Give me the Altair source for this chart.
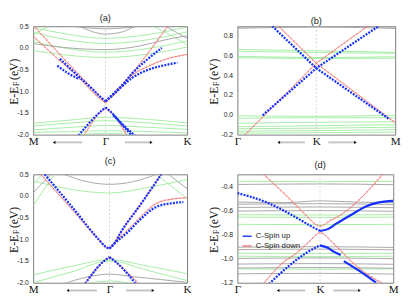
import altair as alt
import pandas as pd

SERIF = "Liberation Serif"
SANS = "Liberation Sans"
SERIES = ["C-Spin up", "C-Spin down"]
SERIES_COLORS = ["#1430ff", "#f07878"]

# ---------------- panel (a): M - Gamma - K ----------------
A_LABELS = ["M", "Γ", "K"]
A_SYM = 0.47
A_YDOM = [-2.0, 0.5]
A_YTICKS = [-2.0, -1.5, -1.0, -0.5, 0.0, 0.5]
A_GREEN = [
    [(0, 0.47), (0.2, 0.33), (0.47, 0.22), (0.75, 0.31), (1, 0.48)],
    [(0, 0.36), (0.2, 0.2), (0.47, 0.1), (0.75, 0.19), (1, 0.37)],
    [(0, 0.15), (0.2, 0.0), (0.47, -0.1), (0.75, -0.01), (1, 0.16)],
    [(0, -0.06), (0.2, -0.16), (0.47, -0.22), (0.75, -0.14), (1, 0.02)],
    [(0, 0.3), (0.05, 0.4), (0.1, 0.5)],
    [(0.78, 0.5), (0.9, 0.28), (1, 0.08)],
    [(0, -1.74), (0.25, -1.66), (0.47, -1.6), (0.75, -1.65), (1, -1.73)],
    [(0, -1.8), (0.25, -1.73), (0.47, -1.68), (0.75, -1.73), (1, -1.8)],
    [(0, -1.89), (0.25, -1.83), (0.47, -1.79), (0.75, -1.83), (1, -1.88)],
    [(0, -1.95), (0.25, -1.93), (0.47, -1.91), (0.75, -1.93), (1, -1.96)],
    [(0.3, -2.0), (0.47, -1.97), (0.65, -2.0)],
]
A_GRAY = [
    [(0.25, 0.5), (0.47, 0.44), (0.7, 0.5)],
    [(0.3, 0.5), (0.38, 0.38), (0.47, 0.32), (0.57, 0.36), (0.66, 0.5)],
    [(0, 0.1), (0.2, 0.01), (0.47, -0.04), (0.7, 0.05), (0.85, 0.18), (1, 0.28)],
    [(0.86, 0.5), (0.93, 0.36), (1, 0.22)],
]
A_RED = [
    [(0, 0.52), (0.2, -0.25), (0.4, -1.0), (0.44, -1.15), (0.47, -1.25)],
    [(0, 0.27), (0.15, -0.22), (0.29, -0.66), (0.42, -1.13), (0.47, -1.27)],
    [(0.47, -1.25), (0.52, -1.08), (0.58, -0.85), (0.874, 0.5)],
    [(0.47, -1.26), (0.52, -1.1), (0.58, -0.86), (0.64, -0.64), (0.75, -0.42), (0.853, -0.27), (1.0, -0.15)],
    [(0.33, -2.02), (0.44, -1.47), (0.47, -1.39)],
    [(0.47, -1.39), (0.5, -1.47), (0.61, -2.02)],
]
A_BLUE = [
    [(0.174, -0.25), (0.29, -0.64), (0.40, -1.0), (0.44, -1.14), (0.47, -1.23)],
    [(0.157, -0.41), (0.22, -0.57), (0.3, -0.72)],
    [(0.47, -1.23), (0.52, -1.06), (0.58, -0.85), (0.64, -0.6), (0.75, -0.24), (0.836, 0.0)],
    [(0.47, -1.23), (0.52, -1.08), (0.58, -0.88), (0.64, -0.7), (0.75, -0.5), (0.853, -0.4), (0.937, -0.34)],
    [(0.295, -2.02), (0.44, -1.46), (0.47, -1.37)],
    [(0.47, -1.37), (0.5, -1.46), (0.6, -1.86), (0.64, -2.02)],
    [(0.52, -1.55), (0.58, -1.76), (0.66, -2.02)],
]

# ---------------- panel (b): Gamma - K - M ----------------
B_LABELS = ["Γ", "K", "M"]
B_SYM = 0.5
B_YDOM = [-0.2, 0.893]
B_YTICKS = [-0.2, 0.0, 0.2, 0.4, 0.6, 0.8]
B_GREEN = [
    [(0, 0.66), (0.5, 0.645), (1, 0.63)],
    [(0, 0.64), (0.5, 0.628), (1, 0.62)],
    [(0, 0.59), (0.5, 0.578), (1, 0.585)],
    [(0, 0.575), (0.5, 0.568), (1, 0.57)],
    [(0, -0.01), (0.5, -0.015), (1, -0.005)],
    [(0, -0.035), (0.5, -0.03), (1, -0.03)],
    [(0, -0.085), (0.5, -0.075), (1, -0.07)],
    [(0, -0.12), (0.5, -0.11), (1, -0.1)],
    [(0, -0.14), (0.5, -0.135), (1, -0.125)],
    [(0, -0.165), (0.5, -0.16), (1, -0.15)],
    [(0, -0.185), (0.5, -0.18), (1, -0.175)],
]
B_GRAY = [
    [(0, 0.872), (0.3, 0.882), (0.5, 0.885), (0.7, 0.882), (1, 0.87)],
    [(0, 0.885), (0.5, 0.89), (1, 0.885)],
]
B_RED = [
    [(0.03, -0.23), (0.5, 0.52), (0.84, 0.91)],
    [(0.25, 0.91), (0.5, 0.52), (1.0, -0.08)],
]
B_BLUE = [
    [(0.16, -0.005), (0.5, 0.47), (0.894, 0.893)],
    [(0.221, 0.893), (0.5, 0.47), (0.959, -0.04)],
]

# ---------------- panel (c): M - Gamma - K ----------------
C_LABELS = ["M", "Γ", "K"]
C_SYM = 0.496
C_YDOM = [-2.0, 0.5]
C_YTICKS = [-2.0, -1.5, -1.0, -0.5, 0.0, 0.5]
C_GREEN = [
    [(0, 0.35), (0.25, 0.15), (0.496, 0.07), (0.75, 0.2), (1, 0.38)],
    [(0, -0.22), (0.137, 0.5)],
    [(0, 0.28), (0.06, 0.5)],
    [(0.8, 0.5), (0.9, 0.22), (1, -0.05)],
    [(0, -1.82), (0.25, -1.62), (0.496, -1.47), (0.75, -1.62), (1, -1.79)],
    [(0, -2.0), (0.25, -1.75), (0.496, -1.5), (0.75, -1.72), (1, -1.95)],
    [(0.35, -2.02), (0.496, -1.96), (0.65, -2.02)],
]
C_GRAY = [
    [(0.2, 0.5), (0.35, 0.33), (0.496, 0.27), (0.65, 0.33), (0.8, 0.5)],
    [(0, 0.07), (0.06, 0.3), (0.12, 0.5)],
    [(0.88, 0.5), (0.94, 0.33), (1, 0.17)],
    [(0.2, -2.02), (0.35, -1.87), (0.496, -1.8), (0.65, -1.86), (1, -1.99)],
]
C_RED = [
    [(0.05, 0.5), (0.25, -0.3), (0.44, -1.06), (0.47, -1.17), (0.496, -1.21)],
    [(0.496, -1.21), (0.53, -1.08), (0.567, -0.85), (0.693, -0.22), (0.832, 0.5)],
    [(0.496, -1.21), (0.53, -1.07), (0.61, -0.8), (0.693, -0.5), (0.8, -0.17), (0.904, -0.07), (1.0, -0.04)],
    [(0.338, -2.02), (0.46, -1.5), (0.496, -1.41)],
    [(0.496, -1.41), (0.53, -1.5), (0.685, -2.02)],
]
C_BLUE = [
    [(0.075, 0.5), (0.25, -0.24), (0.44, -1.06), (0.47, -1.17), (0.496, -1.21)],
    [(0.496, -1.21), (0.53, -1.08), (0.567, -0.85), (0.693, -0.22), (0.832, 0.5)],
    [(0.496, -1.21), (0.53, -1.09), (0.61, -0.85), (0.693, -0.55), (0.8, -0.25), (0.904, -0.165), (0.976, -0.14)],
    [(0.338, -2.02), (0.46, -1.5), (0.496, -1.41)],
    [(0.496, -1.41), (0.53, -1.5), (0.6, -1.74), (0.665, -2.02)],
]

# ---------------- panel (d): Gamma - K - M ----------------
D_LABELS = ["Γ", "K", "M"]
D_SYM = 0.53
D_YDOM = [-1.2, -0.3]
D_YTICKS = [-1.2, -1.0, -0.8, -0.6, -0.4]
D_GREEN_E = [-0.358, -0.635, -0.655, -0.715, -0.955, -0.98, -1.085]
D_GRAY_E = [-0.384, -0.548, -0.575, -0.605, -0.905, -0.925, -0.998, -1.045, -1.078, -1.126]
D_GREEN = [[(0, e), (0.53, e - 0.003), (1, e)] for e in D_GREEN_E]
D_GRAY = [[(0, e), (0.53, e + 0.004), (1, e - 0.002)] for e in D_GRAY_E] + [
    [(0, -0.53), (0.3, -0.535), (0.53, -0.52), (0.75, -0.53), (1, -0.535)],
]
D_RED = [
    [(0.168, -0.3), (0.26, -0.41), (0.348, -0.52), (0.44, -0.64), (0.53, -0.73),
     (0.6, -0.68), (0.663, -0.637), (0.766, -0.53), (0.85, -0.42), (0.932, -0.3)],
    [(0.172, -1.2), (0.286, -1.04), (0.389, -0.944), (0.46, -0.86), (0.53, -0.785),
     (0.621, -0.88), (0.745, -1.04), (0.849, -1.144), (0.94, -1.21)],
]
D_BLUE = [
    [(0, -0.456), (0.182, -0.53), (0.348, -0.637), (0.472, -0.73), (0.53, -0.77)],
    [(0.203, -1.21), (0.327, -1.064), (0.43, -0.963), (0.517, -0.898), (0.53, -0.89)],
]
D_BLUE_SOLID = [
    [(0.53, -0.77), (0.58, -0.755), (0.634, -0.71), (0.725, -0.64), (0.828, -0.565), (0.9, -0.535), (1.0, -0.52)],
    [(0.53, -0.89), (0.58, -0.91), (0.621, -0.944), (0.663, -0.97)],
    [(0.683, -1.02), (0.78, -1.1), (0.89, -1.2)],
]


def to_df(bands, kind, series=""):
    rows = []
    for i, band in enumerate(bands):
        for j, (k, e) in enumerate(band):
            rows.append({"k": k, "e": e, "band": f"{kind}{i}", "o": j, "series": series})
    return pd.DataFrame(rows, columns=["k", "e", "band", "o", "series"])


ONE = pd.DataFrame({"a": [0]})


def make_panel(title, tdx, toff, labels, sym, ydom, yticks, W, H, green, gray, red, blue,
               blue_solid, arrows, ytx, interp, legend):
    lab_expr = (f"abs(datum.value) < 0.001 ? '{labels[0]}' : "
                f"abs(datum.value - 1) < 0.001 ? '{labels[2]}' : '{labels[1]}'")
    X = alt.X("k:Q", scale=alt.Scale(domain=[0, 1], nice=False, zero=False),
              axis=alt.Axis(values=[0, sym, 1], labelExpr=lab_expr, title=None, domain=False,
                            ticks=False, tickSize=0, grid=False, labelFont=SERIF, labelFontSize=11.5,
                            labelColor="#111", labelPadding=1, labelFlush=False,
                            labelOverlap=False, labelBound=False))
    Y = alt.Y("e:Q", scale=alt.Scale(domain=ydom, nice=False, zero=False),
              axis=alt.Axis(values=yticks, labelExpr="replace(format(datum.value, '.1f'), '\u2212', '-')",
                            title=None, domain=False, ticks=False, tickSize=0, grid=False,
                            labelFont=SANS, labelFontSize=7, labelColor="#222", labelPadding=5))
    leg = None
    if legend:
        leg = alt.Legend(orient="none", legendX=4, legendY=58, title=None, symbolType="stroke",
                         symbolStrokeWidth=1.6, symbolSize=90, labelFont=SANS, labelFontSize=8,
                         labelColor="#222", rowPadding=0, labelOffset=3, padding=0)
    COLOR = alt.Color("series:N", scale=alt.Scale(domain=SERIES, range=SERIES_COLORS), legend=leg)

    layers = []
    layers.append(alt.Chart(ONE).mark_rule(color="#c8c8c8", strokeWidth=0.8, strokeDash=[2, 2])
                  .encode(x=alt.datum(sym)))
    layers.append(alt.Chart(to_df(green, "g")).mark_line(
        color="#90e890", strokeWidth=0.8, interpolate="monotone", clip=True)
        .encode(x=X, y=Y, detail="band:N", order="o:Q"))
    layers.append(alt.Chart(to_df(gray, "y")).mark_line(
        color="#a6a6a6", strokeWidth=1, interpolate="monotone", clip=True)
        .encode(x=X, y=Y, detail="band:N", order="o:Q"))
    red_df = to_df(red, "r", "C-Spin down")
    layers.append(alt.Chart(red_df).mark_line(strokeWidth=1, interpolate=interp, clip=True, opacity=0.9)
                  .encode(x=X, y=Y, detail="band:N", order="o:Q", color=COLOR))
    layers.append(alt.Chart(red_df).mark_line(strokeWidth=2, strokeDash=[1, 3], interpolate=interp,
                                              clip=True, opacity=0.6)
                  .encode(x=X, y=Y, detail="band:N", order="o:Q", color=COLOR))
    layers.append(alt.Chart(to_df(blue, "b", "C-Spin up")).mark_line(
        strokeWidth=2.3, strokeDash=[2, 1.3], strokeCap="butt", interpolate=interp, clip=True)
        .encode(x=X, y=Y, detail="band:N", order="o:Q", color=COLOR))
    if blue_solid:
        layers.append(alt.Chart(to_df(blue_solid, "s", "C-Spin up")).mark_line(
            strokeWidth=2.2, interpolate=interp, clip=True)
            .encode(x=X, y=Y, detail="band:N", order="o:Q", color=COLOR))
    # direction arrows under the k axis
    (l0, l1), (r0, r1) = arrows
    ay = H + 8
    layers.append(alt.Chart(ONE).mark_rule(color="#c4c4c4", strokeWidth=2)
                  .encode(x=alt.datum(l0), x2=alt.datum(l1), y=alt.value(ay)))
    layers.append(alt.Chart(ONE).mark_rule(color="#c4c4c4", strokeWidth=2)
                  .encode(x=alt.datum(r0), x2=alt.datum(r1), y=alt.value(ay)))
    layers.append(alt.Chart(ONE).mark_point(shape="triangle-left", filled=True, size=10, color="#111",
                                            opacity=1).encode(x=alt.datum(l0), y=alt.value(ay)))
    layers.append(alt.Chart(ONE).mark_point(shape="triangle-right", filled=True, size=10, color="#111",
                                            opacity=1).encode(x=alt.datum(r1), y=alt.value(ay)))
    # y title  E-E_F (eV)
    c = H / 2 + 3.5
    layers.append(alt.Chart(ONE).mark_text(angle=270, align="right", baseline="middle", font=SERIF,
                                           fontSize=12, color="#111")
                  .encode(x=alt.value(ytx), y=alt.value(c + 3), text=alt.value("E-E")))
    layers.append(alt.Chart(ONE).mark_text(angle=270, align="center", baseline="middle", font=SERIF,
                                           fontSize=8, color="#111")
                  .encode(x=alt.value(ytx + 3), y=alt.value(c), text=alt.value("F")))
    layers.append(alt.Chart(ONE).mark_text(angle=270, align="left", baseline="middle", font=SERIF,
                                           fontSize=12, color="#111")
                  .encode(x=alt.value(ytx), y=alt.value(c - 4), text=alt.value("(eV)")))
    return alt.layer(*layers).properties(
        width=W, height=H,
        title=alt.TitleParams(title, font=SANS, fontSize=9.5, fontWeight="normal", color="#222",
                              offset=toff, dx=tdx, anchor="middle"))


pa = make_panel("(a)", -5, 0, A_LABELS, A_SYM, A_YDOM, A_YTICKS, 159, 112, A_GREEN, A_GRAY, A_RED,
                A_BLUE, [], [(0.136, 0.319), (0.596, 0.767)], -19.5, "monotone", False)
pb = make_panel("(b)", 0, 0, B_LABELS, B_SYM, B_YDOM, B_YTICKS, 163, 112, B_GREEN, B_GRAY, B_RED,
                B_BLUE, [], [(0.262, 0.428), (0.576, 0.748)], -24.5, "linear", False)
pc = make_panel("(c)", 0, 5, C_LABELS, C_SYM, C_YDOM, C_YTICKS, 159, 112, C_GREEN, C_GRAY, C_RED,
                C_BLUE, [], [(0.225, 0.414), (0.603, 0.779)], -19.5, "monotone", False)
pd_ = make_panel("(d)", 5, 5, D_LABELS, D_SYM, D_YDOM, D_YTICKS, 161, 112, D_GREEN, D_GRAY, D_RED,
                 D_BLUE, D_BLUE_SOLID, [(0.261, 0.435), (0.615, 0.783)], -24.5, "monotone", True)

chart = alt.concat(pa, pb, pc, pd_, columns=2, spacing={"row": 9, "column": 16}).resolve_scale(
    x="independent", y="independent", color="independent"
).configure_view(stroke="#7a7a7a", strokeWidth=1).properties(padding=0)

chart.save("out.html", embed_options={"renderer": "svg", "actions": False})
